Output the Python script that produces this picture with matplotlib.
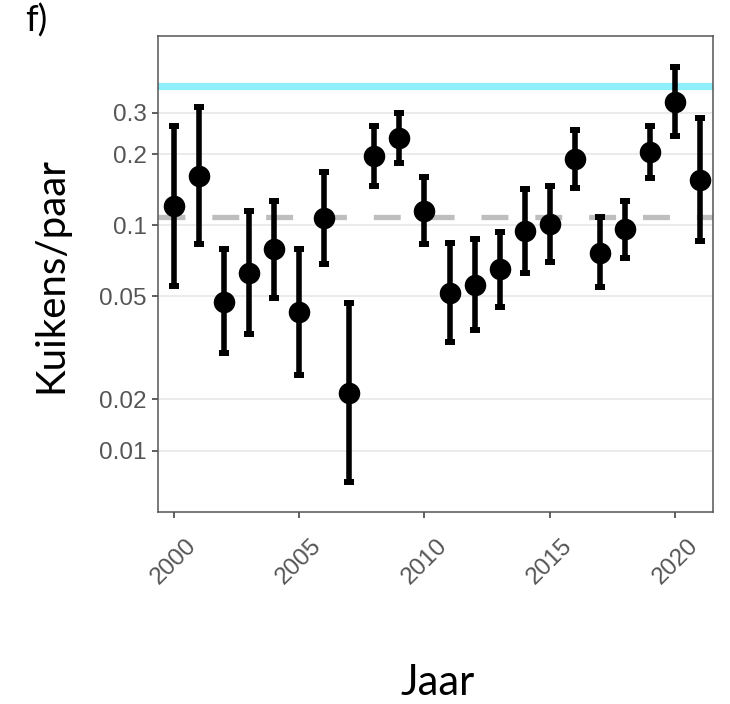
import numpy as np
import matplotlib
matplotlib.use('Agg')
import matplotlib.pyplot as plt

# ── data ──────────────────────────────────────────────────────────────────────
years = list(range(2000, 2022))
kuikens = [0.121, 0.162, 0.0475, 0.063, 0.079, 0.0429, 0.107, 0.0195,
           0.197, 0.235, 0.115, 0.0515, 0.0558, 0.0651, 0.0949, 0.101,
           0.191, 0.0766, 0.0965, 0.204, 0.334, 0.156]
upper = [0.263, 0.318, 0.0794, 0.115, 0.127, 0.0794, 0.168, 0.0467,
         0.263, 0.298, 0.160, 0.0839, 0.0875, 0.0939, 0.1425, 0.147,
         0.253, 0.108, 0.127, 0.264, 0.467, 0.284]
lower = [0.0553, 0.0833, 0.0287, 0.0345, 0.049, 0.0232, 0.0684, 0.0082,
         0.147, 0.183, 0.0833, 0.0321, 0.036, 0.0452, 0.0626, 0.0697,
         0.144, 0.0546, 0.0729, 0.158, 0.239, 0.0858]

ref_high = 0.39    # cyan line
ref_mean = 0.108   # grey dashed line

# tick labels as printed in the reference (the lower two sit at e^-4 and e^-4.5)
y_ticks = [0.3, 0.2, 0.1, 0.05, np.exp(-4.0), np.exp(-4.5)]
y_ticklabels = ['0.3', '0.2', '0.1', '0.05', '0.02', '0.01']
x_ticks = [2000, 2005, 2010, 2015, 2020]

LABEL_FONT = ['Lato', 'DejaVu Sans']
TICK_FONT = ['Liberation Sans', 'DejaVu Sans']

fig = plt.figure(figsize=(7.3, 7.04), dpi=100)
ax = fig.add_axes([158 / 730, 1 - 512 / 704, 555 / 730, 476 / 704])

ax.set_yscale('log')
ax.set_ylim(0.0061, 0.634)
ax.set_xlim(1999.38, 2021.5)

# grid only on major y ticks
for t in y_ticks:
    ax.axhline(t, color='#EBEBEB', linewidth=1.4, zorder=0)

ax.axhline(ref_high, color='#90EFFA', linewidth=5.2, zorder=1)
ax.axhline(ref_mean, color='#BEBEBE', linewidth=3.8, linestyle=(0, (5.1, 5.1)), zorder=1)

yerr = [np.array(kuikens) - np.array(lower), np.array(upper) - np.array(kuikens)]
ax.errorbar(years, kuikens, yerr=yerr, fmt='o', color='black', markersize=14.5,
            elinewidth=4.0, capsize=3.5, capthick=4.3, zorder=3)

ax.set_yticks(y_ticks)
ax.set_yticklabels(y_ticklabels)
ax.yaxis.set_minor_locator(matplotlib.ticker.NullLocator())
ax.set_xticks(x_ticks)
ax.set_xticklabels([str(x) for x in x_ticks], rotation=45, ha='center', va='top')

ax.tick_params(axis='both', direction='out', length=4, width=1.1, color='#333333',
               labelcolor='#555555', labelsize=17.5)
ax.tick_params(axis='y', pad=4)
ax.tick_params(axis='x', pad=12)
for lbl in ax.get_xticklabels() + ax.get_yticklabels():
    lbl.set_family(TICK_FONT)

for sp in ax.spines.values():
    sp.set_color('#555555')
    sp.set_linewidth(1.1)

fig.text(438 / 730, 1 - 683 / 704, 'Jaar', family=LABEL_FONT,
         fontsize=30, ha='center', va='center')
fig.text(51 / 730, 1 - 275 / 704, 'Kuikens/paar', family=LABEL_FONT,
         fontsize=29, rotation=90, ha='center', va='center')
fig.text(25 / 730, 1 - 21 / 704, 'f)', family=LABEL_FONT,
         fontsize=26, ha='left', va='center')

fig.savefig('out.png', dpi=100)
